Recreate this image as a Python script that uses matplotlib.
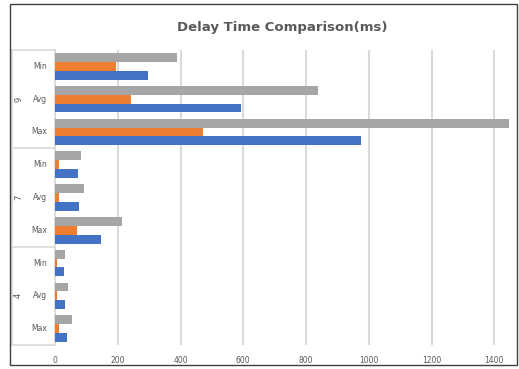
import numpy as np
import matplotlib.pyplot as plt
from matplotlib.patches import Rectangle
from matplotlib.lines import Line2D

# delay (ms) per group / statistic, top to bottom
groups = ['9', '7', '4']
stats = ['Min', 'Avg', 'Max']
blue_vals = [296, 592, 976, 72, 78, 145, 29, 33, 37]
orange_vals = [195, 243, 472, 13, 13, 70, 5, 5, 13]
gray_vals = [390, 837, 1447, 83, 94, 213, 33, 42, 54]
xticks = [0, 200, 400, 600, 800, 1000, 1200, 1400]

c_blue = '#4472C4'
c_orange = '#ED7D31'
c_gray = '#A5A5A5'

fig = plt.figure(figsize=(5.19, 3.69), dpi=100)
ax = fig.add_axes([55 / 519, 1 - 345 / 369, 455 / 519, 295 / 369])

y = np.arange(len(blue_vals))
h = 0.27
ax.barh(y - h, gray_vals, height=h, color=c_gray, zorder=3)
ax.barh(y, orange_vals, height=h, color=c_orange, zorder=3)
ax.barh(y + h, blue_vals, height=h, color=c_blue, zorder=3)

ax.set_ylim(len(y) - 0.5, -0.5)
ax.set_xlim(0, 1450)
ax.set_xticks(xticks)
ax.set_xticklabels([str(t) for t in xticks], fontsize=5.5, color='#595959')
ax.tick_params(axis='x', length=0, pad=8)
ax.set_yticks([])
ax.grid(axis='x', color='#d9d9d9', linewidth=1.5, zorder=0)
for s in ['top', 'right', 'bottom']:
    ax.spines[s].set_visible(False)
ax.spines['left'].set_color('#d9d9d9')
ax.spines['left'].set_linewidth(1.2)

# two-level category axis
trans = ax.get_yaxis_transform()
for i in range(len(y)):
    ax.text(-0.018, i, stats[i % 3], transform=trans, ha='right', va='center',
            fontsize=5.5, color='#595959')
for g, name in enumerate(groups):
    ax.text(-0.08, 3 * g + 1, name, transform=trans, ha='center', va='center',
            rotation=90, fontsize=6, color='#595959')
for b in [-0.5, 2.5, 5.5, 8.5]:
    ax.add_line(Line2D([-0.094, 0], [b, b], transform=trans, color='#d9d9d9',
                       linewidth=1.2, clip_on=False))
ax.add_line(Line2D([-0.094, -0.094], [-0.5, 8.5], transform=trans, color='#d9d9d9',
                   linewidth=1.2, clip_on=False))

fig.text(282 / 519, 1 - 27 / 369, 'Delay Time Comparison(ms)', ha='center', va='center',
         fontsize=9.5, fontweight='bold', color='#595959')

fig.patches.append(Rectangle((10 / 519, 4 / 369), 507 / 519, 361 / 369,
                             transform=fig.transFigure, fill=False,
                             edgecolor='#404040', linewidth=1))

fig.savefig('out.png', dpi=100)
